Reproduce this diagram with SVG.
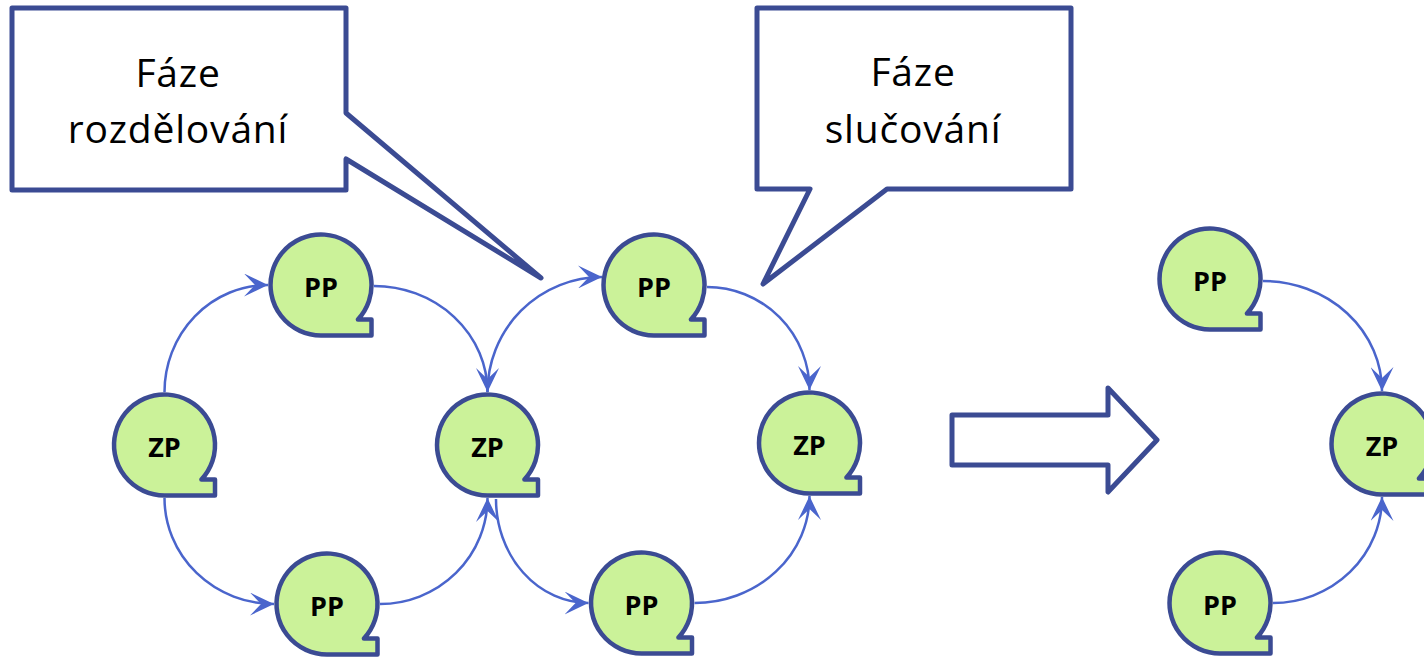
<svg xmlns="http://www.w3.org/2000/svg" xmlns:xlink="http://www.w3.org/1999/xlink" width="1424" height="657" viewBox="0 0 1424 657">
<style>
.node{fill:#CBF299;stroke:#3B4B93;stroke-width:4.5;stroke-linejoin:round}
.lbl{font-family:"Open Sans","Liberation Sans",sans-serif;font-weight:bold;font-size:27px;fill:#000;text-anchor:middle}
.con{fill:none;stroke:#4A65CC;stroke-width:2.5;marker-end:url(#ah)}
.call{fill:#fff;stroke:#3B4B93;stroke-width:5;stroke-linejoin:round}
.ctxt{font-family:"Open Sans","Liberation Sans",sans-serif;font-size:39px;fill:#000;text-anchor:middle;letter-spacing:0.8px}
</style>
<defs>
<path id="tape" d="M36.9,34.5 A50.5,50.5 0 1 0 0,50.5 H50.5 V34.5 Z"/>
<marker id="ah" markerUnits="userSpaceOnUse" viewBox="0 0 24 23" markerWidth="24" markerHeight="23" refX="24" refY="11.5" orient="auto">
<path d="M0,0 L24,11.5 L0,23 L11,11.5 Z" fill="#4A65CC"/>
</marker>
</defs>
<rect width="1424" height="657" fill="#fff"/>

<g id="callout-rozdelovani">
<path class="call" d="M12,8 H346 V113 L541,278 L346,159 V190 H12 Z"/>
<text class="ctxt" x="178" y="87">Fáze</text>
<text class="ctxt" x="178" y="143">rozdělování</text>
</g>
<g id="callout-slucovani">
<path class="call" d="M757,8 H1071 V189 H887 L763,284 L810,189 H757 Z"/>
<text class="ctxt" x="913" y="86">Fáze</text>
<text class="ctxt" x="913" y="143">slučování</text>
</g>

<g id="connectors">
<path class="con" d="M164.5,392 A103.5,107 0 0 1 268,285"/>
<path class="con" d="M374,286 A113.5,106 0 0 1 487.5,392"/>
<path class="con" d="M164.5,498 A109.5,106 0 0 0 274,604"/>
<path class="con" d="M380,604 A107.5,106 0 0 0 487.5,498"/>
<path class="con" d="M487.5,392 A114.5,115 0 0 1 602,277"/>
<path class="con" d="M707,287 A102.5,103 0 0 1 809.5,390"/>
<path class="con" d="M496,499 A92.5,104 0 0 0 588.5,603"/>
<path class="con" d="M694.5,603 A115,107 0 0 0 809.5,496"/>
<path class="con" d="M1263,281 A119,110 0 0 1 1382,391"/>
<path class="con" d="M1273,603 A109,106 0 0 0 1382,497"/>
</g>

<g id="zp-a"><use href="#tape" class="node" x="164.5" y="445"/><text class="lbl" x="164.5" y="457">ZP</text></g>
<g id="pp-a1"><use href="#tape" class="node" x="321" y="285"/><text class="lbl" x="321" y="297">PP</text></g>
<g id="pp-a2"><use href="#tape" class="node" x="327" y="604"/><text class="lbl" x="327" y="616">PP</text></g>
<g id="zp-b"><use href="#tape" class="node" x="487.5" y="445"/><text class="lbl" x="487.5" y="457">ZP</text></g>
<g id="pp-b1"><use href="#tape" class="node" x="654" y="285"/><text class="lbl" x="654" y="297">PP</text></g>
<g id="pp-b2"><use href="#tape" class="node" x="641.5" y="603"/><text class="lbl" x="641.5" y="615">PP</text></g>
<g id="zp-c"><use href="#tape" class="node" x="809.5" y="443"/><text class="lbl" x="809.5" y="455">ZP</text></g>
<g id="pp-c1"><use href="#tape" class="node" x="1210" y="279"/><text class="lbl" x="1210" y="291">PP</text></g>
<g id="zp-d"><use href="#tape" class="node" x="1382" y="444"/><text class="lbl" x="1382" y="456">ZP</text></g>
<g id="pp-c2"><use href="#tape" class="node" x="1220" y="603"/><text class="lbl" x="1220" y="615">PP</text></g>

<g id="block-arrow">
<path class="call" d="M952,415 H1108 V388 L1157,440 L1108,492 V465 H952 Z"/>
</g>
</svg>
